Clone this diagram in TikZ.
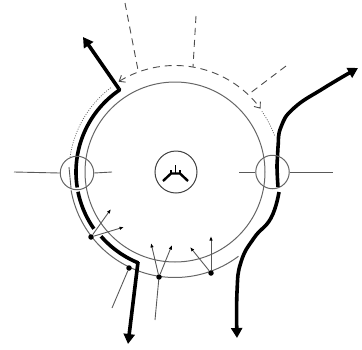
\documentclass[tikz,border=0pt]{standalone}
\usetikzlibrary{arrows.meta}
\tikzset{
  thin line/.style={draw=black!65,line width=0.9pt},
  ring line/.style={draw=black!60,line width=1pt},
  thick line/.style={draw=black,line width=3.6pt,line join=round},
  big arrow/.style={thick line,-{Triangle[length=10pt,width=11pt]}},
  dash line/.style={draw=black!70,line width=0.9pt,dash pattern=on 7pt off 5pt},
  dot line/.style={draw=black!60,line width=0.7pt,dash pattern=on 1pt off 1.4pt},
  small arrow/.style={draw=black!65,line width=0.9pt,-{Latex[length=4.5pt,width=3.4pt,black]}},
  jdot/.style={circle,fill=black,inner sep=0pt,minimum size=5.5pt},
  valve/.style={circle,draw=black!60,line width=1pt,fill=none,minimum size=33.5pt,inner sep=0pt},
}
\begin{document}
\begin{tikzpicture}[x=1pt,y=-1pt]
\useasboundingbox (0,0) rectangle (362,349);
% inner ring
\draw[ring line] (175,172) circle[radius=90pt];
% outer ring lower
\draw[ring line,variable=\a] plot[domain=170:53,samples=60] ({175+105.5*cos(\a)},{172+105.5*sin(\a)});
% thick paths
\coordinate (ArrowTopL) at (83,37);
\coordinate (KinkTop) at (119,89);
\draw[thick line,variable=\a] plot[domain=171:236,samples=50] ({175+99*cos(\a)},{172+99*sin(\a)}) -- (KinkTop);
\draw[big arrow] (KinkTop) -- (ArrowTopL);
\draw[thick line,variable=\a] plot[domain=168.5:145,samples=20] ({175+99*cos(\a)},{172+99*sin(\a)});
\coordinate (KinkBot) at (138,262);
\coordinate (ArrowBotL) at (128,344);
\draw[thick line,variable=\a] plot[domain=139:112,samples=20] ({175+98*cos(\a)},{172+98*sin(\a)});
\draw[big arrow] (KinkBot) -- (ArrowBotL);
\coordinate (ArrowTopR) at (358,68);
\coordinate (ArrowBotR) at (237,338);
\draw[big arrow] plot[smooth,tension=0.8] coordinates {(278,187) (277,165) (278,147) (281,127) (294,108) (324,88) (ArrowTopR)};
\draw[big arrow] plot[smooth,tension=0.8] coordinates {(279,192) (271,218) (254,238) (241,262) (237,292) (ArrowBotR)};
% dashed
\coordinate (DA) at (125,3);
\coordinate (DB) at (138,70);
\coordinate (DC) at (196,16);
\coordinate (DD) at (193,67);
\coordinate (DE) at (286,66);
\coordinate (DF) at (249,94);
\draw[dash line] (DA) -- (DB);
\draw[dash line] (DC) -- (DD);
\draw[dash line] (DE) -- (DF);
\draw[dash line,variable=\a,{Straight Barb[length=5pt,width=8pt]}-{Straight Barb[length=5pt,width=8pt]}] plot[domain=238:323.5,samples=70] ({175+106.5*cos(\a)},{172+106.5*sin(\a)});
\draw[dot line,variable=\a] plot[domain=188:233,samples=40] ({175+106*cos(\a)},{172+106*sin(\a)});
\draw[dot line,variable=\a] plot[domain=325:340,samples=12] ({175+106*cos(\a)},{172+106*sin(\a)});
% valves
\node[valve] (VL) at (77,173) {};
\node[valve] (VR) at (272.5,172) {};
\draw[thin line] (14,172) -- (VL.west);
\draw[thin line] (VL.east) -- (112,172);
\draw[thin line] (239,172) -- (VR.west);
\draw[thin line] (VR.east) -- (333,172);
\draw[thin line] (69,167) -- (71,188);
% centre
\node[circle,draw=black!75,line width=1pt,minimum size=42pt,inner sep=0pt] (C) at (176,172) {};
\draw[black,line width=2.4pt,line join=round] (163,181) -- (171,173.5) -- (180,173.5) -- (188,181);
\draw[black,line width=1.2pt] (175.5,173) -- (175.5,165);
\draw[black,line width=1.2pt] (171,174) -- (171,170);
\draw[black,line width=1.2pt] (180,174) -- (180,170);
% junctions
\node[jdot] (J1) at (91,237) {};
\node[jdot] (J2) at (129,268) {};
\node[jdot] (J3) at (159,277) {};
\node[jdot] (J4) at (211,273) {};
\coordinate (T1a) at (111,209);
\coordinate (T1b) at (124,227);
\coordinate (T3a) at (151,243);
\coordinate (T3b) at (172,245);
\coordinate (T4a) at (190,247);
\coordinate (T4b) at (211,236);
\coordinate (L2) at (112,308);
\coordinate (L3) at (155,320);
\draw[small arrow] (J1) -- (T1a);
\draw[small arrow] (J1) -- (T1b);
\draw[small arrow] (J3) -- (T3a);
\draw[small arrow] (J3) -- (T3b);
\draw[small arrow] (J4) -- (T4a);
\draw[small arrow] (J4) -- (T4b);
\draw[thin line] (J2) -- (L2);
\draw[thin line] (J3) -- (L3);
\end{tikzpicture}
\end{document}
